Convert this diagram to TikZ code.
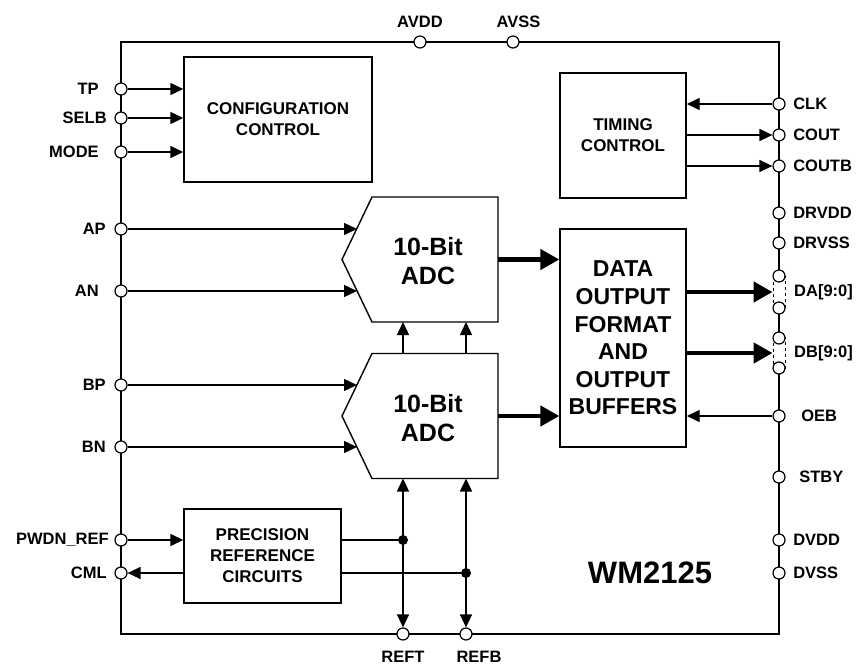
\documentclass[tikz,border=0pt]{standalone}
\usepackage{fontspec}
\setmainfont{Liberation Sans}
\usetikzlibrary{arrows.meta,calc}

\begin{document}
\begin{tikzpicture}[x=1pt, y=-1pt,
    >={Triangle[length=13pt,width=12pt]},
    block/.style={draw, line width=1.4pt, align=center, inner sep=0pt,
                  font=\fontsize{17}{21}\selectfont\bfseries},
    pin/.style={draw, circle, fill=white, line width=1.2pt, inner sep=0pt, minimum size=12pt},
    pinlabel/.style={font=\fontsize{16.5}{18}\selectfont\bfseries, inner sep=0pt},
    sig/.style={->, line width=1.4pt},
    dsig/.style={<->, line width=1.4pt},
    bus/.style={-{Triangle[length=19pt,width=20pt]}, line width=4.5pt},
    busbox/.style={draw, dashed, fill=white, line width=1pt, minimum width=12pt,
                   minimum height=31pt, inner sep=0pt},
    dot/.style={circle, fill, inner sep=0pt, minimum size=10pt}
]
\useasboundingbox (0,0) rectangle (856,666);

% Chip outline
\draw[line width=1.4pt] (121,42) rectangle (779,634);

% Function blocks
\node[block, minimum width=188pt, minimum height=125pt] (config) at (278,119.5) {CONFIGURATION\\CONTROL};
\node[block, minimum width=126pt, minimum height=125pt] (timing) at (623,135.5) {TIMING\\CONTROL};
\node[block, minimum width=126pt, minimum height=218pt,
      font=\fontsize{23}{27.6}\selectfont\bfseries] (data) at (623,338)
      {DATA\\OUTPUT\\FORMAT\\AND\\OUTPUT\\BUFFERS};
\node[block, minimum width=157pt, minimum height=94pt] (prec) at (262.5,556) {PRECISION\\REFERENCE\\CIRCUITS};

% The two converters (pointed on the input side)
\foreach \n/\yc in {A/259.5, B/416} {
  \draw[line width=1.4pt] (372,\yc-62.5) -- (498,\yc-62.5) -- (498,\yc+62.5)
        -- (372,\yc+62.5) -- (342,\yc) -- cycle;
  \node[font=\fontsize{25}{29}\selectfont\bfseries, align=center] (adc\n) at (428,\yc+2) {10-Bit\\ADC};
  \coordinate (adc\n-in) at (357,\yc);
  \coordinate (adc\n-out) at (498,\yc);
  \coordinate (adc\n-top) at (435,\yc-62.5);
  \coordinate (adc\n-bot) at (435,\yc+62.5);
}

% Output buses (dashed groups between two pins)
\node[busbox, label={[pinlabel, label distance=8.5pt]right:{DA[9:0]}}] (busDA) at (779,292) {};
\node[busbox, label={[pinlabel, label distance=8.5pt]right:{DB[9:0]}}] (busDB) at (779,353) {};

% Left pins
\foreach \pn/\ptxt/\py/\pd in {TP/TP/89/15.5, SELB/SELB/118/7.5, MODE/MODE/152/15.5,
    AP/AP/229/8.5, AN/AN/291/15.5, BP/BP/385/8.5, BN/BN/447/8.5,
    pwdn/PWDN\_REF/540/5.5, CML/CML/573/7.5}
  \node[pin, label={[pinlabel, label distance=\pd pt]left:\ptxt}] (\pn) at (121,\py) {};

% Right pins
\foreach \pn/\py/\pd in {CLK/104/7.5, COUT/135/7.5, COUTB/166/7.5, DRVDD/213/7.5,
    DRVSS/243/7.5, OEB/416/15.5, STBY/477/13.5, DVDD/540/7.5, DVSS/573/7.5}
  \node[pin, label={[pinlabel, label distance=\pd pt]right:\pn}] (\pn) at (779,\py) {};
\foreach \pn/\py in {DAa/276, DAb/308, DBa/338, DBb/368}
  \node[pin] (\pn) at (779,\py) {};

% Top and bottom pins
\node[pin, label={[pinlabel, label distance=7.5pt]above:AVDD}] (AVDD) at (420,42) {};
\node[pin, label={[pinlabel, label distance=7.5pt, xshift=5.5pt]above:AVSS}] (AVSS) at (513,42) {};
\node[pin, label={[pinlabel, label distance=10pt]below:REFT}] (REFT) at (403,634) {};
\node[pin, label={[pinlabel, label distance=10pt, xshift=13pt]below:REFB}] (REFB) at (466,634) {};

% Configuration inputs
\foreach \pn in {TP, SELB, MODE}
  \draw[sig] (\pn) -- (\pn -| config.west);

% Analog inputs
\foreach \pn/\adc in {AP/A, AN/A, BP/B, BN/B}
  \draw[sig] (\pn) -- (\pn -| adc\adc-in);

% Clock pins
\draw[sig] (CLK) -- (CLK -| timing.east);
\draw[sig] (timing.east |- COUT) -- (COUT);
\draw[sig] (timing.east |- COUTB) -- (COUTB);

% Converter B to converter A
\draw[sig] (REFT |- adcB-top) -- (REFT |- adcA-bot);
\draw[sig] (REFB |- adcB-top) -- (REFB |- adcA-bot);

% Converter outputs into the output block
\draw[bus] (adcA-out) -- (adcA-out -| data.west);
\draw[bus] (adcB-out) -- (adcB-out -| data.west);
\draw[bus] (data.east |- busDA) -- (busDA.west);
\draw[bus] (data.east |- busDB) -- (busDB.west);
\draw[sig] (OEB) -- (OEB -| data.east);

% Reference circuits
\draw[sig] (pwdn) -- (pwdn -| prec.west);
\draw[sig] (prec.west |- CML) -- (CML);
\node[dot] (jT) at (pwdn -| REFT) {};
\node[dot] (jB) at (CML -| REFB) {};
\draw[line width=1.4pt] (prec.east |- pwdn) -- (jT);
\draw[line width=1.4pt] (prec.east |- CML) -- (jB);
\draw[dsig] (REFT |- adcB-bot) -- (REFT);
\draw[dsig] (REFB |- adcB-bot) -- (REFB);

% Part number
\node[font=\fontsize{31}{36}\selectfont\bfseries] (part) at (650,573) {WM2125};

\end{tikzpicture}
\end{document}
